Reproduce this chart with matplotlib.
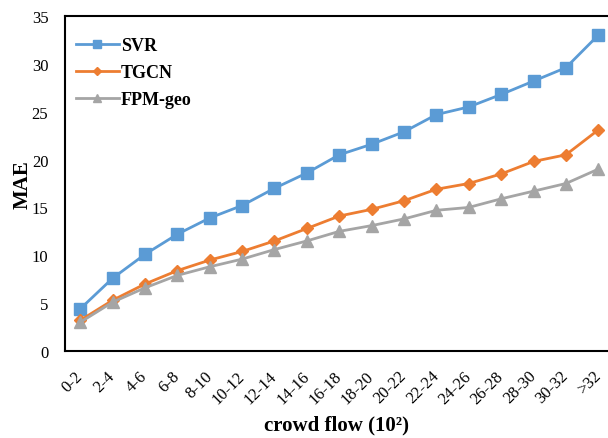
import matplotlib.pyplot as plt

plt.rcParams['font.family'] = ['Liberation Serif', 'DejaVu Serif']

categories = ['0-2', '2-4', '4-6', '6-8', '8-10', '10-12', '12-14', '14-16', '16-18',
              '18-20', '20-22', '22-24', '24-26', '26-28', '28-30', '30-32', '>32']
svr = [4.4, 7.6, 10.1, 12.2, 13.9, 15.2, 17.0, 18.6, 20.5, 21.6, 22.9, 24.7, 25.5, 26.8, 28.2, 29.6, 33.0]
tgcn = [3.2, 5.3, 7.0, 8.4, 9.5, 10.4, 11.5, 12.8, 14.1, 14.8, 15.7, 16.9, 17.5, 18.5, 19.8, 20.5, 23.1]
fpm_geo = [3.0, 5.1, 6.6, 7.9, 8.8, 9.6, 10.6, 11.5, 12.5, 13.1, 13.8, 14.7, 15.0, 15.9, 16.7, 17.5, 19.0]

fig = plt.figure(figsize=(6.08, 4.39), dpi=100)
ax = fig.add_axes([65/608, 1 - 352/439, 543/608, 335/439])

x = range(len(categories))
ax.plot(x, svr, color='#5b9bd5', lw=2, marker='s', ms=8, label='SVR')
ax.plot(x, tgcn, color='#ed7d31', lw=2, marker='D', ms=6, label='TGCN')
ax.plot(x, fpm_geo, color='#a5a5a5', lw=2, marker='^', ms=8, label='FPM-geo')

ax.set_xlim(-0.47, 16.3)
ax.set_ylim(0, 35)
ax.set_yticks(range(0, 36, 5))
ax.set_xticks(list(x))
ax.set_xticklabels(categories, rotation=45, ha='right', va='center', rotation_mode='anchor')
ax.tick_params(axis='both', length=0, labelsize=12)
ax.tick_params(axis='y', pad=12)
ax.tick_params(axis='x', pad=16)

for s in ax.spines.values():
    s.set_linewidth(1.5)
    s.set_color('black')
ax.spines['right'].set_visible(False)

ax.set_ylabel('MAE', fontsize=15, fontweight='bold')
ax.yaxis.set_label_coords(-0.06, 0.5)
ax.set_xlabel('crowd flow (10²)', fontsize=15, fontweight='bold', labelpad=6)

leg = ax.legend(loc='upper left', frameon=False, prop={'weight': 'bold', 'size': 13},
                handlelength=2.4, handletextpad=0.1, labelspacing=0.55, markerscale=0.7,
                bbox_to_anchor=(-0.01, 0.985))

fig.savefig('out.png', dpi=100)
